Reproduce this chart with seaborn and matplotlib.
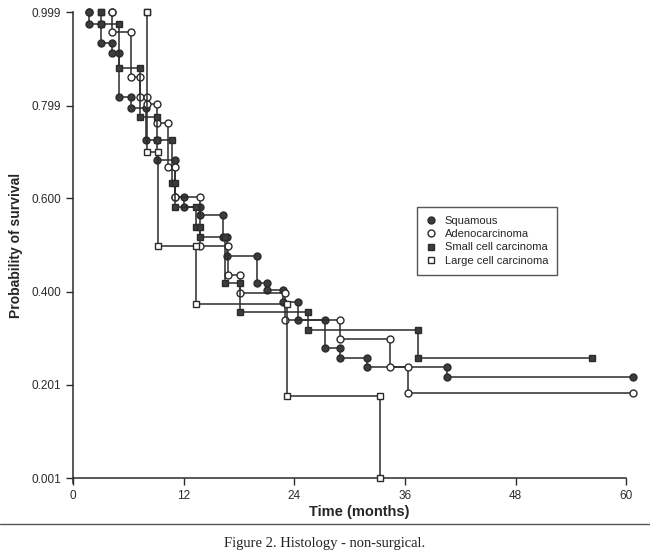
#!/usr/bin/python env
"""plot.py

Kaplan-Meier style survival curves by histology (non-surgical).

"""

import matplotlib
matplotlib.use("Agg")
import matplotlib.pyplot as plt
from matplotlib.lines import Line2D
import pandas as pd
import seaborn as sns

TOP = 0.999

# Squamous
squamous_start = 1.8
squamous_times = [1.8, 3.1, 4.2, 5.0, 6.3, 7.9, 9.1, 11.1, 12.1, 13.8,
                  16.3, 16.7, 20.0, 21.1, 22.8, 24.4, 27.3, 29.0, 31.9, 40.6]
squamous_surv = [0.973, 0.933, 0.911, 0.817, 0.793, 0.725, 0.682, 0.603,
                 0.581, 0.564, 0.517, 0.477, 0.419, 0.404, 0.378, 0.340,
                 0.280, 0.258, 0.239, 0.217]
squamous_end = 60.7

# Adenocarcinoma
adeno_start = 4.2
adeno_times = [4.2, 6.3, 7.3, 8.0, 9.1, 10.3, 11.1, 13.8, 16.8, 18.1,
               23.0, 29.0, 34.4, 36.3]
adeno_surv = [0.956, 0.860, 0.817, 0.802, 0.761, 0.667, 0.603, 0.498,
              0.436, 0.397, 0.340, 0.299, 0.239, 0.183]
adeno_end = 60.7

# Small cell carcinoma
small_start = 3.1
small_times = [3.1, 5.0, 7.3, 9.1, 10.7, 11.1, 13.4, 13.8, 16.5, 18.1,
               25.5, 37.4]
small_surv = [0.973, 0.879, 0.774, 0.725, 0.633, 0.581, 0.539, 0.517,
              0.419, 0.357, 0.318, 0.258]
small_end = 56.3

# Large cell carcinoma
large_start = 8.0
large_times = [8.0, 9.2, 13.4, 23.2, 33.3]
large_surv = [0.699, 0.498, 0.375, 0.177, 0.001]
large_end = 33.3

labels = ["Squamous", "Adenocarcinoma", "Small cell carcinoma",
          "Large cell carcinoma"]
y_ticks = [0.001, 0.201, 0.400, 0.600, 0.799, 0.999]
y_tick_labels = ["0.001", "0.201", "0.400", "0.600", "0.799", "0.999"]
x_ticks = [0, 12, 24, 36, 48, 60]

INK = "#2b2b2b"
FILL = "#3c3c3c"


def corners(start, times, surv, end):
    """Turn event times into the corner points of a step curve."""
    xs, ys = [start], [TOP]
    prev = TOP
    for t, s in zip(times, surv):
        xs += [t, t]
        ys += [prev, s]
        prev = s
    if end > xs[-1]:
        xs.append(end)
        ys.append(prev)
    return pd.DataFrame({"time": xs, "survival": ys})


curves = [
    (corners(squamous_start, squamous_times, squamous_surv, squamous_end),
     "o", FILL),
    (corners(adeno_start, adeno_times, adeno_surv, adeno_end), "o", "white"),
    (corners(small_start, small_times, small_surv, small_end), "s", FILL),
    (corners(large_start, large_times, large_surv, large_end), "s", "white"),
]

sns.set_style("ticks")
plt.rcParams["font.family"] = ["Liberation Sans", "DejaVu Sans"]

fig = plt.figure(figsize=(6.5, 5.54), dpi=100)
ax = fig.add_axes([0.112, 0.137, 0.880, 0.841])

for df, marker, face in curves:
    sns.lineplot(data=df, x="time", y="survival", sort=False, estimator=None,
                 ax=ax, color=INK, linewidth=1.1, marker=marker,
                 markersize=5.0, markerfacecolor=face, markeredgecolor=INK,
                 markeredgewidth=1.0, clip_on=False, zorder=3)

ax.set_xlim(0, 62)
ax.set_ylim(0.001, 0.999)
ax.set_xticks(x_ticks)
ax.set_xticklabels([str(v) for v in x_ticks], fontsize=8.5, color="#222")
ax.set_yticks(y_ticks)
ax.set_yticklabels(y_tick_labels, fontsize=8.5, color="#222")
ax.tick_params(direction="out", length=5, width=1, colors=INK)
ax.spines["top"].set_visible(False)
ax.spines["right"].set_visible(False)
ax.spines["bottom"].set_bounds(0, 60)
ax.spines["left"].set_bounds(-0.01, 0.999)
for side in ("left", "bottom"):
    ax.spines[side].set_color(INK)
    ax.spines[side].set_linewidth(1.1)

ax.set_xlabel("Time (months)", fontsize=10.5, fontweight="bold", labelpad=2)
ax.set_ylabel("Probability of survival", fontsize=10, fontweight="bold",
              labelpad=6)

handles = [
    Line2D([], [], linestyle="none", marker="o", markersize=5,
           markerfacecolor=FILL, markeredgecolor=INK),
    Line2D([], [], linestyle="none", marker="o", markersize=5,
           markerfacecolor="white", markeredgecolor=INK),
    Line2D([], [], linestyle="none", marker="s", markersize=5,
           markerfacecolor=FILL, markeredgecolor=INK),
    Line2D([], [], linestyle="none", marker="s", markersize=5,
           markerfacecolor="white", markeredgecolor=INK),
]
leg = ax.legend(handles, labels, loc="upper left",
                bbox_to_anchor=(0.592, 0.594), fontsize=8, frameon=True,
                fancybox=False, edgecolor=INK, handlelength=1.0,
                handletextpad=0.7, borderpad=0.8, labelspacing=0.3)
leg.get_frame().set_linewidth(1.0)

# rule and caption under the chart
fig.add_artist(Line2D([0.0, 1.0], [0.054, 0.054],
                      transform=fig.transFigure, color="#555",
                      linewidth=1.0))
fig.text(0.5, 0.008, "Figure 2. Histology - non-surgical.", ha="center",
         va="bottom", fontsize=10.5, family="Liberation Serif", color="#222")

fig.savefig("out.png", dpi=100)
